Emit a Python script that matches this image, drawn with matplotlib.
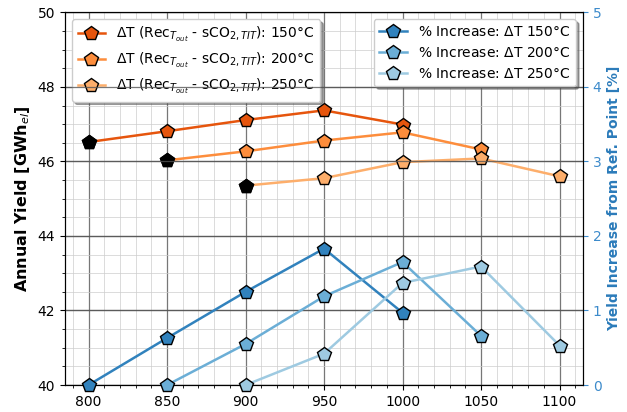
import matplotlib
matplotlib.use("Agg")
import matplotlib.pyplot as plt
from matplotlib.ticker import MultipleLocator

# Data
x150 = [800, 850, 900, 950, 1000]
x200 = [850, 900, 950, 1000, 1050]
x250 = [900, 950, 1000, 1050, 1100]

yield150 = [46.52, 46.81, 47.11, 47.37, 46.99]
yield200 = [46.03, 46.27, 46.56, 46.78, 46.32]
yield250 = [45.35, 45.55, 45.98, 46.08, 45.60]

inc150 = [0.0, 0.63, 1.25, 1.83, 0.97]
inc200 = [0.0, 0.55, 1.19, 1.65, 0.66]
inc250 = [0.0, 0.42, 1.37, 1.59, 0.53]

labels_y = [r"$\Delta$T (Rec$_{T_{out}}$ - sCO$_{2,TIT}$): 150°C",
            r"$\Delta$T (Rec$_{T_{out}}$ - sCO$_{2,TIT}$): 200°C",
            r"$\Delta$T (Rec$_{T_{out}}$ - sCO$_{2,TIT}$): 250°C"]
labels_i = [r"% Increase: $\Delta$T 150°C",
            r"% Increase: $\Delta$T 200°C",
            r"% Increase: $\Delta$T 250°C"]

oranges = ["#e6550d", "#fd8d3c", "#fdae6b"]
blues = ["#3182bd", "#6baed6", "#9ecae1"]

fig = plt.figure(figsize=(6.27, 4.12), dpi=100)
ax = fig.add_axes([0.1037, 0.0655, 0.8262, 0.9045])
ax2 = ax.twinx()

ms = 10
for xs, ys, c, lab in zip([x150, x200, x250], [yield150, yield200, yield250], oranges, labels_y):
    ax.plot(xs, ys, '-p', color=c, lw=1.8, ms=ms, mec='black', mew=1.0, label=lab, zorder=3)
    ax.plot(xs[0], ys[0], 'p', color='black', ms=ms, mec='black', zorder=4)

for xs, ys, c, lab in zip([x150, x200, x250], [inc150, inc200, inc250], blues, labels_i):
    ax2.plot(xs, ys, '-p', color=c, lw=1.8, ms=ms, mec='black', mew=1.0, label=lab, zorder=3, clip_on=False)

ax.set_xlim(785, 1115)
ax.set_ylim(40, 50)
ax2.set_ylim(0, 5)
ax.xaxis.set_major_locator(MultipleLocator(50))
ax.xaxis.set_minor_locator(MultipleLocator(10))
ax.yaxis.set_major_locator(MultipleLocator(2))
ax.yaxis.set_minor_locator(MultipleLocator(0.5))
ax2.yaxis.set_major_locator(MultipleLocator(1))

ax.grid(which='major', color='#555555', lw=0.9, alpha=0.8)
ax.grid(which='minor', color='#cccccc', lw=0.6, alpha=0.8)
ax2.grid(which='major', color='#555555', lw=0.9, alpha=0.8)
ax.set_axisbelow(True)

ax.set_ylabel("Annual Yield [GWh$_{el}$]", fontsize=11.5, fontweight='bold')
bc = "#2b7bba"
ax2.set_ylabel("Yield Increase from Ref. Point [%]", fontsize=10, fontweight='bold', color=bc)
ax2.tick_params(axis='y', colors="#3d8bcb", labelsize=10)
ax.tick_params(labelsize=10)

ax.legend(loc='upper left', fontsize=10, shadow=True)
ax2.legend(loc='upper right', fontsize=10, shadow=True)

fig.savefig("out.png", dpi=100)
